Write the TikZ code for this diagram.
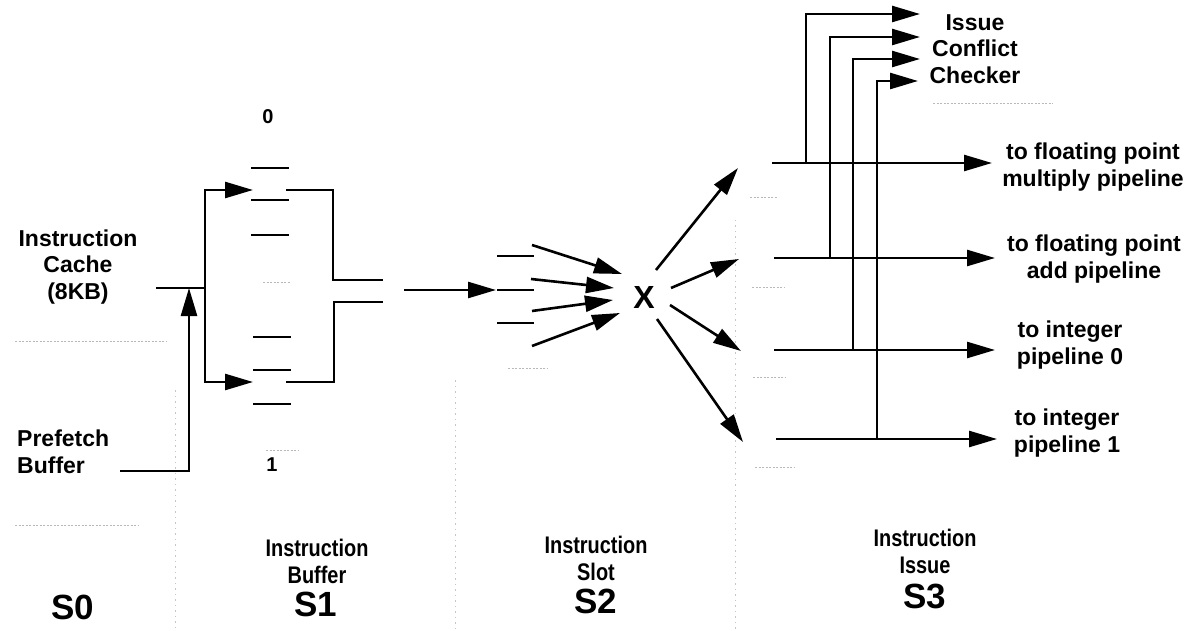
\documentclass[tikz,border=0pt]{standalone}
\usepackage{fontspec}
\setmainfont{Liberation Sans}
\newfontfamily\condfont[FakeStretch=0.83]{Liberation Sans}
\usetikzlibrary{arrows.meta}
\begin{document}
\begin{tikzpicture}[x=1pt,y=-1pt,
  wire/.style={line width=2.6pt},
  arr/.style={wire,-{Triangle[length=28pt,width=16pt]}},
  reg/.style={line width=2.8pt},
  lbl/.style={font=\fontsize{23}{26.5}\selectfont\bfseries, align=center, inner sep=0pt},
  small/.style={font=\fontsize{20}{22}\selectfont\bfseries, inner sep=0pt},
  bigx/.style={font=\fontsize{32}{34}\selectfont\bfseries, inner sep=0pt},
  cond/.style={font=\condfont\bfseries\fontsize{24}{27}\selectfont, align=center, inner sep=0pt},
  stagelbl/.style={font=\fontsize{35}{36}\selectfont\bfseries, inner sep=0pt},
  faint/.style={gray!55, line width=0.8pt, dash pattern=on 2pt off 1.5pt},
  sep/.style={gray!45, line width=0.7pt, dash pattern=on 1.5pt off 4pt}]
\useasboundingbox (0,0) rectangle (1194,631);

% faint stage separators and remnants
\draw[sep] (175,390) -- (175,631);
\draw[sep] (455,380) -- (455,631);
\draw[sep] (735,220) -- (735,631);
\draw[faint] (15,341) -- (167,341);
\draw[faint] (15,525) -- (138,525);
\draw[faint] (933,103) -- (1053,103);
\draw[faint] (263,282) -- (290,282);
\draw[faint] (266,450) -- (299,450);
\draw[faint] (508,368) -- (547,368);
\draw[faint] (750,197) -- (777,197);
\draw[faint] (752,287) -- (785,287);
\draw[faint] (753,377) -- (786,377);
\draw[faint] (755,467) -- (795,467);

% text labels
\node[lbl] (cache) at (78,267) {Instruction\\Cache\\(8KB)};
\node[lbl, align=left, anchor=west] (prefetch) at (17,452) {Prefetch\\Buffer};
\node[small] (b0) at (268,117) {0};
\node[small] (b1) at (272,465) {1};
\node[bigx] (xbar) at (644,297) {X};
\node[lbl] (icc) at (975,49) {Issue\\Conflict\\Checker};
\node[lbl] (fpm) at (1093,167) {to floating point\\multiply pipeline};
\node[lbl] (fpa) at (1094,259) {to floating point\\add pipeline};
\node[lbl] (ip0) at (1070,345) {to integer\\pipeline 0};
\node[lbl] (ip1) at (1067,433) {to integer\\pipeline 1};
\node[cond] (ib) at (317,561) {Instruction\\Buffer};
\node[cond] (isl) at (596,558) {Instruction\\Slot};
\node[cond] (iis) at (925,551) {Instruction\\Issue};
\node[stagelbl] (s0) at (73,607) {S0};
\node[stagelbl] (s1) at (316,604) {S1};
\node[stagelbl] (s2) at (596,601) {S2};
\node[stagelbl] (s3) at (925,596) {S3};

% coordinates
\coordinate (cacheOut) at (156,288);
\coordinate (jn) at (205,288);
\coordinate (pfOut) at (120,471);
\coordinate (pfTip) at (189,288);
\coordinate (buf0In) at (253,190);
\coordinate (buf1In) at (253,382);
\coordinate (buf0Out) at (286,190);
\coordinate (buf1Out) at (286,382);
\coordinate (m0) at (383,280);
\coordinate (m1) at (383,302);
\coordinate (slotIn0) at (404,290);
\coordinate (slotIn) at (496,290);

% S0 -> S1
\draw[wire] (cacheOut) -- (jn);
\draw[arr] (pfOut) -| (pfTip);
\draw[arr] (jn) |- (buf0In);
\draw[arr] (jn) |- (buf1In);

% instruction buffer registers
\foreach \y in {168,200,235} \draw[reg] (251,\y) -- (289,\y);
\foreach \y in {337,370,404} \draw[reg] (253,\y) -- (291,\y);

% buffer outputs
\draw[wire] (buf0Out) -| (333,280) -- (m0);
\draw[wire] (buf1Out) -| (334,302) -- (m1);
\draw[arr] (slotIn0) -- (slotIn);

% instruction slot registers
\foreach \y in {256,290,323} \draw[reg] (497,\y) -- (534,\y);

% into crossbar
\draw[arr] (532,245) -- (622,274);
\draw[arr] (531,279) -- (614,288);
\draw[arr] (532,311) -- (613,300);
\draw[arr] (532,346) -- (620,313);

% out of crossbar
\draw[arr] (656,270) -- (738,168);
\draw[arr] (671,288) -- (739,259);
\draw[arr] (670,305) -- (741,351);
\draw[arr] (657,319) -- (743,442);

% issue lines
\coordinate (h1) at (772,163);
\coordinate (h2) at (774,258);
\coordinate (h3) at (774,350);
\coordinate (h4) at (776,439);
\draw[arr] (h1) -- (992,163);
\draw[arr] (h2) -- (995,258);
\draw[arr] (h3) -- (995,350);
\draw[arr] (h4) -- (997,439);

% to issue conflict checker
\draw[arr] (806,163) |- (920,14);
\draw[arr] (830,258) |- (920,37);
\draw[arr] (853,350) |- (920,59);
\draw[arr] (877,439) |- (918,81);
\end{tikzpicture}
\end{document}
